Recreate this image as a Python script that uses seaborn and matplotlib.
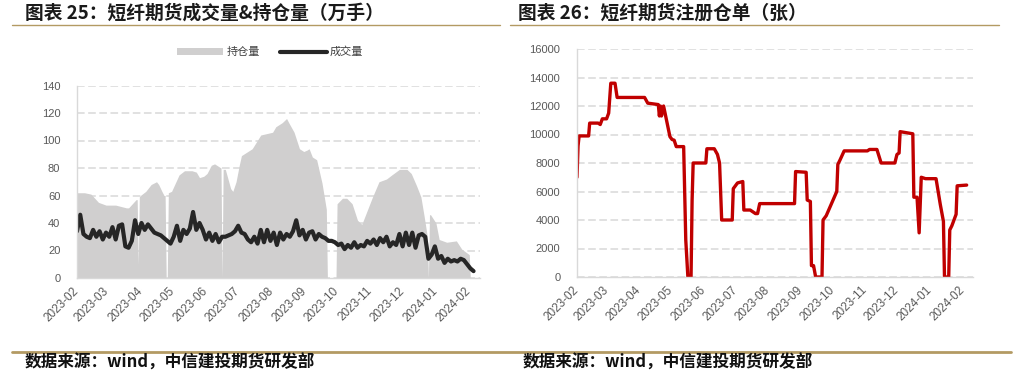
import pandas as pd
import seaborn as sns
import matplotlib.pyplot as plt
import matplotlib.dates as mdates
from matplotlib.lines import Line2D
from matplotlib.patches import Patch

# --- data (days counted from 2023-02-01) ---
START = pd.Timestamp("2023-02-01")

# 持仓量 (万手)
hold_day = [0, 7, 13, 20, 27, 36, 46, 48, 55, 56, 57, 58, 59, 64, 69, 74, 76, 79, 81, 82, 83, 84,
            85, 88, 95, 100, 107, 111, 114, 118, 121, 125, 128, 132, 134, 135, 136, 138, 143, 145,
            148, 151, 153, 163, 171, 182, 185, 191, 195, 197, 202, 207, 211, 214, 216, 219, 223,
            228, 232, 233, 241, 242, 247, 251, 256, 261, 265, 269, 275, 281, 288, 293, 300, 307,
            311, 316, 320, 323, 326, 327, 328, 329, 334, 337, 344, 353, 358, 365, 366]
hold_val = [62, 62, 61, 55, 53, 53, 51, 51, 57, 57, 10, 59, 60, 63, 68, 70, 68, 63, 60, 60, 0, 0,
            62, 63, 75, 78, 78, 77, 73, 74, 76, 82, 83, 81, 80, 0, 79, 79, 65, 63,
            70, 82, 89, 94, 104, 106, 110, 113, 116, 113, 106, 94, 92, 93, 94, 88, 86,
            69, 50, 0, 0, 54, 58, 58, 54, 42, 39, 47, 59, 70, 72, 75, 79, 79,
            76, 67, 59, 45, 30, 0, 46, 46, 40, 28, 26, 27, 21, 17, 0]

# 成交量 (万手), one reading every 3 days
vol_val = [34, 46, 32, 30, 29, 35, 30, 34, 28, 33, 30, 37, 28, 38, 39, 23, 22, 27, 42, 32,
           40, 35, 39, 36, 33, 32, 31, 29, 27, 25, 30, 38, 27, 35, 32, 36, 48, 35, 40, 35,
           28, 33, 27, 32, 26, 30, 30, 31, 32, 34, 38, 33, 32, 28, 26, 30, 25, 35, 26, 35,
           27, 33, 24, 33, 28, 32, 30, 34, 42, 31, 35, 28, 33, 34, 28, 32, 30, 29, 27, 27,
           26, 24, 25, 21, 24, 22, 26, 22, 24, 23, 27, 25, 28, 24, 29, 26, 30, 23, 26, 24,
           32, 23, 33, 24, 33, 22, 31, 32, 30, 14, 17, 23, 14, 16, 11, 14, 12, 13, 12, 14,
           13, 10, 7, 5]

# 注册仓单 (张)
wr_day = [0, 1, 2, 11, 12, 20, 22, 24, 28, 30, 32, 36, 38, 64, 67, 77, 78, 79, 80, 82,
          88, 90, 92, 94, 101, 103, 105, 108, 109, 110, 122, 123, 130, 133, 135, 137, 147, 148,
          152, 157, 158, 164, 169, 171, 173, 206, 207, 217, 218, 221, 222, 224, 226, 232, 233,
          236, 246, 247, 249, 253, 275, 277, 284, 288, 301, 303, 305, 306, 310, 318, 319, 322,
          324, 326, 330, 340, 344, 345, 347, 348, 352, 353, 355, 359, 360, 369]
wr_val = [7000, 9200, 9900, 9900, 10800, 10800, 10700, 11100, 11100, 11500, 13600, 13600, 12600,
          12600, 12200, 12100, 11300, 12000, 11300, 12000, 9850, 9650, 9600, 9150, 9150, 2600, 0,
          0, 5400, 8000, 8000, 9000, 9000, 8600, 8000, 4000, 4000, 6200, 6600, 6700, 4700, 4700,
          4450, 4450, 5150, 5150, 7400, 7350, 5400, 5300, 800, 800, 0, 0, 4000, 4300, 6000, 7900,
          8200, 8850, 8850, 8950, 8950, 8000, 8000, 8600, 8700, 10200, 10150, 10050, 5600, 5600,
          3100, 7000, 6900, 6900, 5100, 4700, 3900, 0, 0, 3300, 3600, 4400, 6400, 6450]

df_hold = pd.DataFrame({"date": START + pd.to_timedelta(hold_day, unit="D"), "value": hold_val})
df_vol = pd.DataFrame({"date": pd.date_range(START, periods=len(vol_val), freq="3D"), "value": vol_val})
df_wr = pd.DataFrame({"date": START + pd.to_timedelta(wr_day, unit="D"), "value": wr_val})

# --- style ---
sns.set_theme(style="white")
plt.rcParams["font.family"] = ["Liberation Sans", "Noto Sans CJK SC", "DejaVu Sans"]
CJK = ["Noto Sans CJK SC", "DejaVu Sans"]
GOLD = "#B39A63"
GRID = "#D9D9D9"
TICK = "#595959"

W, H = 1017, 387
fig = plt.figure(figsize=(W / 100, H / 100), dpi=100)


def style_axes(ax, ymax, ystep, tick_len):
    ax.set_ylim(0, ymax)
    ax.set_yticks(range(0, ymax + 1, ystep))
    ax.set_xlim(START, pd.Timestamp("2024-02-11"))
    ax.xaxis.set_major_locator(mdates.MonthLocator())
    ax.xaxis.set_major_formatter(mdates.DateFormatter("%Y-%m"))
    ax.yaxis.grid(True, color=GRID, linestyle=(0, (5, 2.3)), linewidth=1.1)
    ax.xaxis.grid(False)
    ax.set_axisbelow(True)
    for s in ["top", "right"]:
        ax.spines[s].set_visible(False)
    for s in ["left", "bottom"]:
        ax.spines[s].set_color(GRID)
        ax.spines[s].set_linewidth(1.0)
    ax.tick_params(axis="y", length=0, pad=12, labelsize=8, labelcolor=TICK)
    ax.tick_params(axis="x", direction="in", length=tick_len, color=GRID, width=1,
                   pad=8, labelsize=8.5, labelcolor=TICK)
    for lab in ax.get_xticklabels():
        lab.set_rotation(45)
        lab.set_ha("right")
        lab.set_va("center")
        lab.set_rotation_mode("anchor")
    ax.set_xlabel("")
    ax.set_ylabel("")


# -----------------------
# Left: volume & open interest
# -----------------------
ax1 = fig.add_axes([77 / W, 109 / H, 403 / W, 192.5 / H])
ax1.fill_between(df_hold["date"], df_hold["value"], color="#D0CFCF", linewidth=0)
sns.lineplot(data=df_vol, x="date", y="value", ax=ax1, color="#262626", linewidth=3.0)
style_axes(ax1, 140, 20, 0)

handles = [Patch(facecolor="#D0CFCF", edgecolor="none"),
           Line2D([], [], color="#262626", linewidth=3)]
fig.legend(handles, ["持仓量", "成交量"], loc="center", bbox_to_anchor=(270 / W, 1 - 52 / H),
           ncol=2, frameon=False, prop={"family": CJK, "size": 8}, handlelength=4.2,
           handleheight=0.5, handletextpad=0.3, columnspacing=1.8, labelcolor="#404040")

# -----------------------
# Right: registered warehouse receipts
# -----------------------
ax2 = fig.add_axes([577 / W, 110 / H, 396 / W, 228 / H])
sns.lineplot(data=df_wr, x="date", y="value", ax=ax2, color="#C00000", linewidth=2.4)
style_axes(ax2, 16000, 2000, 3)

# -----------------------
# Titles, rules and source
# -----------------------
fig.text(25 / W, 1 - 13 / H, "图表 25：短纤期货成交量&持仓量（万手）", family=CJK,
         fontsize=13.5, fontweight="bold", va="center", ha="left", color="#1a1a1a")
fig.text(518 / W, 1 - 13 / H, "图表 26：短纤期货注册仓单（张）", family=CJK,
         fontsize=13.5, fontweight="bold", va="center", ha="left", color="#1a1a1a")

fig.add_artist(Line2D([12 / W, 500 / W], [1 - 25 / H] * 2, color=GOLD, linewidth=1.0))
fig.add_artist(Line2D([510 / W, 999 / W], [1 - 25 / H] * 2, color=GOLD, linewidth=1.0))
fig.add_artist(Line2D([12 / W, 1011 / W], [1 - 352 / H] * 2, color=GOLD, linewidth=2.0))

for x0 in (25, 523):
    fig.text(x0 / W, 1 - 363 / H, "数据来源：wind，中信建投期货研发部", family=CJK,
             fontsize=12, fontweight="bold", style="italic", va="center", ha="left",
             color="#111111")

fig.savefig("out.png", dpi=100)
plt.close(fig)
